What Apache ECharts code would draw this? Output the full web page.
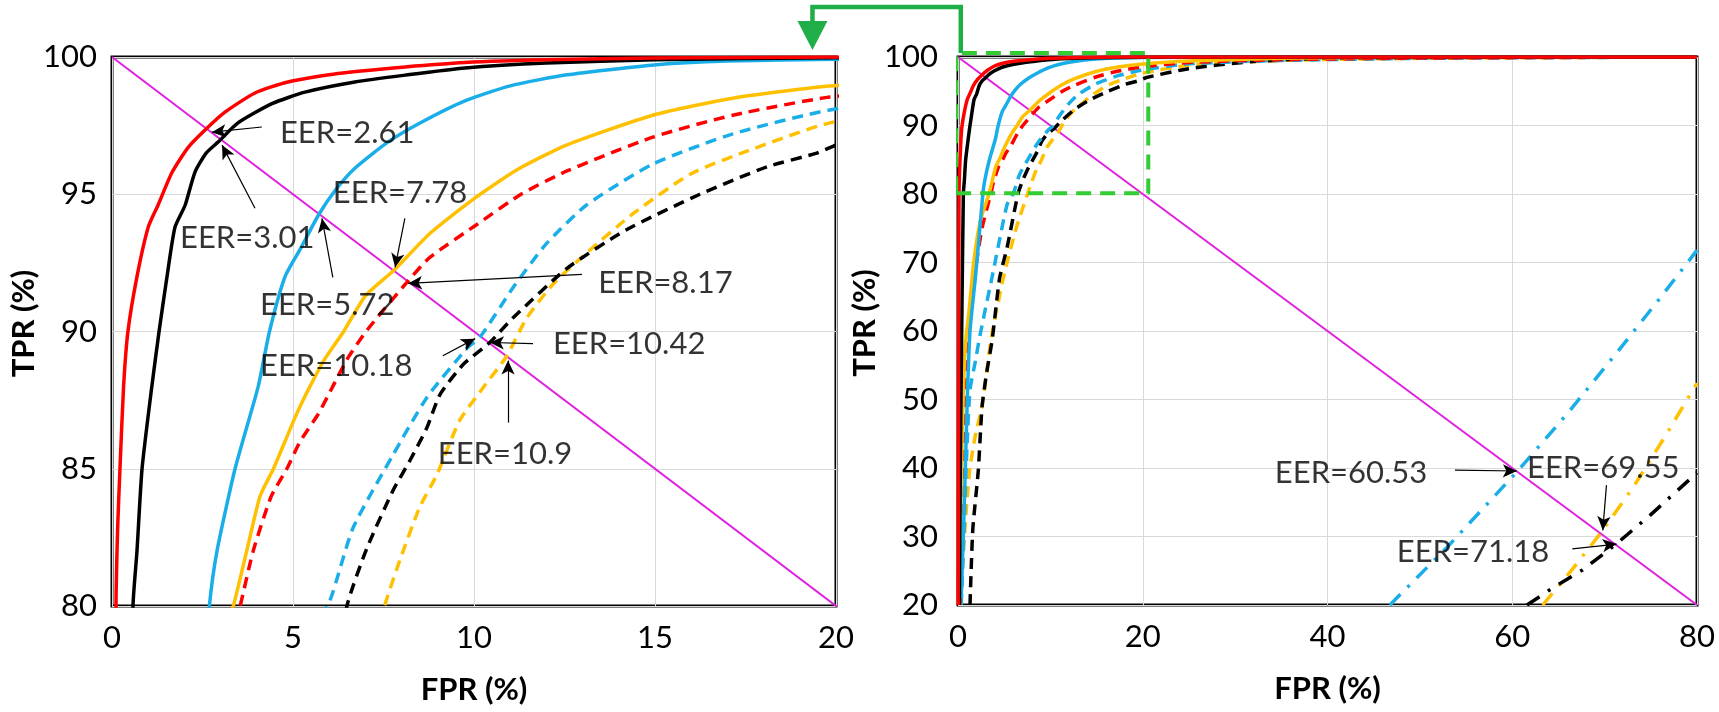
<!DOCTYPE html>
<html><head><meta charset="utf-8">
<script src="https://cdn.jsdelivr.net/npm/echarts@6/dist/echarts.min.js"></script>
<style>html,body{margin:0;padding:0;background:#fff}#c{width:1719px;height:712px}</style>
</head><body><div id="c"></div>
<script>
// ---- data: [FPR, TPR] ----
const redSolid = [[0.02,20],[0.04,40],[0.07,60],[0.11,80],[0.16,83],[0.22,85],[0.32,88],[0.44,90],[0.69,92],[1.0,93.8],[1.27,94.6],[1.66,95.8],[2.1,96.7],[2.57,97.34],[3.12,97.99],[3.95,98.69],[4.86,99.09],[6.24,99.4],[8.1,99.64],[9.75,99.8],[12,99.9],[15,99.96],[20,100],[80,100]];
const blackSolid = [[0.15,20],[0.25,40],[0.4,60],[0.58,80],[0.69,82],[0.83,85],[1.1,88],[1.3,90],[1.52,92],[1.74,93.8],[2.02,94.6],[2.29,95.8],[2.6,96.5],[2.93,96.9],[3.48,97.6],[4.42,98.3],[5.33,98.72],[6.71,99.09],[8.1,99.34],[9.75,99.6],[12,99.78],[15,99.9],[20,99.97],[30,100],[80,100]];
const blueSolid = [[0.35,21],[0.6,31],[0.9,45],[1.05,52],[1.3,60],[1.9,68],[2.3,74],[2.69,80],[2.9,82],[3.4,85],[4.04,88],[4.35,90],[4.78,92],[5.2,93],[5.72,94.28],[6.2,95.2],[6.71,95.95],[7.62,96.9],[8.56,97.63],[9.75,98.4],[11,98.95],[12.57,99.35],[14.9,99.7],[17,99.85],[20,99.92],[30,100],[80,100]];
const orangeSolid = [[0.1,20],[0.3,35],[0.55,50],[0.8,58],[1.2,63],[1.7,70],[2.4,76],[3.35,80],[3.72,82],[4.09,84],[4.46,85],[4.78,86],[5.1,87],[5.47,88],[5.88,89],[6.4,90],[7.0,91.3],[7.78,92.22],[8.78,93.57],[9.94,94.78],[11.2,95.9],[12.57,96.8],[14.94,97.88],[17.15,98.5],[19.83,98.94],[25,99.4],[35,99.8],[50,100],[80,100]];
const redDashed = [[0.2,20],[0.3,28],[0.5,39],[0.65,48],[0.97,58],[1.3,63],[2.0,70],[2.6,75],[3.54,80],[3.9,82],[4.4,84],[4.83,85],[5.2,86],[5.7,87],[6.1,88],[6.5,89],[7.04,90.04],[8.17,91.83],[8.78,92.7],[10.08,93.9],[11.3,95.0],[12.57,95.85],[14.94,97.08],[17.15,97.88],[19.83,98.54],[25,99.2],[35,99.6],[50,99.85],[80,100]];
const blueDashed = [[0.35,20],[0.65,31],[0.97,43],[1.3,51.4],[1.84,55.3],[2.4,59.5],[3.8,68.6],[5.3,78.4],[6.02,80.2],[6.66,82.85],[7.76,85.5],[8.7,87.6],[9.8,89.38],[10.18,89.82],[11.08,91.6],[12.0,93.2],[13.1,94.6],[14.94,96.1],[17.15,97.2],[19.83,98.07],[25,99.0],[35,99.5],[50,99.8],[80,100]];
const blackDashed = [[1.3,20],[1.6,31],[2.2,39.7],[2.6,48.9],[3.1,53.9],[3.7,58.7],[4.5,67.7],[5.3,72.1],[6.49,80],[7.04,82.1],[7.76,84.2],[8.23,85.3],[8.7,86.5],[9.06,87.7],[9.7,88.8],[10.42,89.58],[11.08,90.5],[12.57,92.3],[14.2,93.7],[16.24,95.0],[18.1,96.0],[19.47,96.5],[20.4,97.0],[25,98.3],[31.6,99.3],[40.6,99.85],[80,100]];
const orangeDashed = [[0.3,20],[0.6,28],[1.0,35.7],[1.3,40.1],[1.84,44.5],[2.6,49],[3.1,53.9],[3.6,59],[4.9,67.7],[6.3,75],[7.6,80.3],[7.96,81.7],[8.5,83.6],[8.98,84.8],[9.6,86.75],[10.25,87.95],[10.9,89.1],[11.46,90.5],[12.2,91.75],[13.1,92.85],[14.4,94.3],[16.0,95.75],[17.6,96.6],[19.83,97.6],[25,98.8],[35,99.5],[50,99.8],[80,100]];
const blueDashDot = [[46.75,20],[53,28.5],[60.53,39.47],[66,48],[71.3,56.8],[76,64.8],[80,71.8]];
const orangeDashDot = [[63.3,20],[66.5,25.2],[69.55,30.45],[73,37],[76.5,44.5],[80,52.4]];
const blackDashDot = [[61.6,20],[64.5,22.6],[67.6,25.1],[71.18,28.82],[75,33.2],[80,39.3]];
const diagonal = [[0,100],[80,20]];
const zoomBox = [[-0.2,80.1],[20.6,80.1],[20.6,100.6],[-0.2,100.6],[-0.2,80.1]];

// ---- annotations ----
const leftNoteTexts = ['EER=2.61','EER=3.01','EER=5.72','EER=7.78','EER=8.17','EER=10.18','EER=10.42','EER=10.9'];
const leftNotePos = [[4.64,97.23],[1.88,93.4],[4.09,90.95],[6.1,95.04],[13.43,91.75],[4.09,88.76],[12.18,89.56],[9.0,85.55]];
const leftNoteTail = [[4.14,97.45],[3.95,94.49],[6.1,91.97],[8.09,94.12],[12.98,92.08],[9.14,89.12],[11.63,89.56],[10.94,86.68]];
const leftNoteTip = [[2.76,97.26],[3.04,96.79],[5.8,94.12],[7.82,92.34],[8.18,91.75],[10.03,89.74],[10.44,89.6],[10.94,88.94]];
const rightNoteTexts = ['EER=60.53','EER=69.55','EER=71.18'];
const rightNotePos = [[34.3,39.27],[61.6,40.0],[47.5,27.7]];
const rightNoteTail = [[53.8,39.7],[70.2,37.5],[66.5,28.2]];
const rightNoteTip = [[60.5,39.56],[69.8,30.9],[71.3,28.9]];

const RED='#ff0000', BLACK='#000000', BLUE='#1aaee8', ORANGE='#ffc000', MAGENTA='#e020e0', GREEN='#1fae48';
const FONT='Lato', TXT='#000';

function curve(data, color, type, gi, w, sm){
  return {type:'line', data:data, xAxisIndex:gi, yAxisIndex:gi, symbol:'none', showSymbol:false,
    smooth: sm || false,
    lineStyle:{color:color, width:w||3.5, type:type}, clip:true, silent:true, animation:false};
}
const DASH=[11,7], DASHDOT=[15,10,3,10];
function curvesFor(gi){
  return [
    curve(diagonal, MAGENTA, 'solid', gi, 2),
    curve(orangeDashed, ORANGE, DASH, gi, 3.5, 0.2),
    curve(blackDashed, BLACK, DASH, gi, 3.5, 0.2),
    curve(blueDashed, BLUE, DASH, gi, 3.5, 0.2),
    curve(redDashed, RED, DASH, gi, 3.5, 0.2),
    curve(orangeSolid, ORANGE, 'solid', gi, 3.5, 0.2),
    curve(blueSolid, BLUE, 'solid', gi, 3.5, 0.2),
    curve(blackSolid, BLACK, 'solid', gi, 3.5, 0.2),
    curve(redSolid, RED, 'solid', gi, 3.5, 0.2)
  ];
}
function notes(texts, pos, tails, tips, gi){
  return {type:'scatter', xAxisIndex:gi, yAxisIndex:gi, symbolSize:0, silent:true, animation:false, z:10,
    data: pos.map((p,i)=>({value:p, name:texts[i]})),
    label:{show:true, position:'right', distance:0, formatter:'{b}', fontFamily:FONT, fontSize:31, color:TXT},
    markLine:{silent:true, animation:false, symbol:['none','arrow'], symbolSize:[10,14],
      label:{show:false}, lineStyle:{color:'#000', width:1.2, type:'solid'},
      data: tails.map((t,i)=>[{coord:t},{coord:tips[i]}])}
  };
}
function xAx(gi,min,max,iv){
  return {gridIndex:gi, type:'value', min:min, max:max, interval:iv,
    axisLine:{show:false}, axisTick:{show:false},
    splitLine:{show:true, lineStyle:{color:'#d9d9d9', width:1}},
    axisLabel:{fontFamily:FONT, fontSize:31, color:TXT, margin:16},
    name:'FPR (%)', nameLocation:'middle', nameGap:68,
    nameTextStyle:{fontFamily:FONT, fontSize:31, fontWeight:'bold', color:TXT}};
}
function yAx(gi,min,max,iv,lm,ng){
  return {gridIndex:gi, type:'value', min:min, max:max, interval:iv,
    axisLine:{show:false}, axisTick:{show:false},
    splitLine:{show:true, lineStyle:{color:'#d9d9d9', width:1}},
    axisLabel:{fontFamily:FONT, fontSize:31, color:TXT, margin:lm},
    name:'TPR (%)', nameLocation:'middle', nameGap:ng,
    nameTextStyle:{fontFamily:FONT, fontSize:31, fontWeight:'bold', color:TXT, padding:[0,0,0,16]}};
}

const chart = echarts.init(document.getElementById('c'), null, {renderer:'canvas'});
const series = [].concat(
  curvesFor(0),
  curvesFor(1),
  [curve(blueDashDot, BLUE, DASHDOT, 1), curve(orangeDashDot, ORANGE, DASHDOT, 1), curve(blackDashDot, BLACK, DASHDOT, 1)],
  [Object.assign(curve(zoomBox, '#33cc33', [15,9], 1, 4), {clip:false, z:5})],
  [notes(leftNoteTexts, leftNotePos, leftNoteTail, leftNoteTip, 0), notes(rightNoteTexts, rightNotePos, rightNoteTail, rightNoteTip, 1)]
);
chart.setOption({
  backgroundColor:'#fff', animation:false,
  textStyle:{fontFamily:FONT},
  grid:[
    {left:112, top:57, width:724, height:549, show:true, borderColor:'#000', borderWidth:3, backgroundColor:'transparent'},
    {left:958, top:57, width:739, height:548, show:true, borderColor:'#000', borderWidth:3, backgroundColor:'transparent'}
  ],
  xAxis:[xAx(0,0,20,5), xAx(1,0,80,20)],
  yAxis:[yAx(0,80,100,5,15,68), yAx(1,20,100,10,20,75)],
  series: series
});
// green connector arrow from the zoom box to the left panel
const a = chart.convertToPixel({gridIndex:1}, [0.3, 100.6]);
const b = chart.convertToPixel({gridIndex:0}, [19.35, 100]);
const topY = 7;
chart.setOption({graphic:[
  {type:'polyline', silent:true, z:20, shape:{points:[[a[0],a[1]],[a[0],topY],[b[0],topY],[b[0],b[1]-34]]},
   style:{stroke:GREEN, lineWidth:4.5, fill:null}},
  {type:'polygon', silent:true, z:20, shape:{points:[[b[0]-15,b[1]-36],[b[0]+15,b[1]-36],[b[0],b[1]-7]]},
   style:{fill:GREEN}}
]});
</script></body></html>
